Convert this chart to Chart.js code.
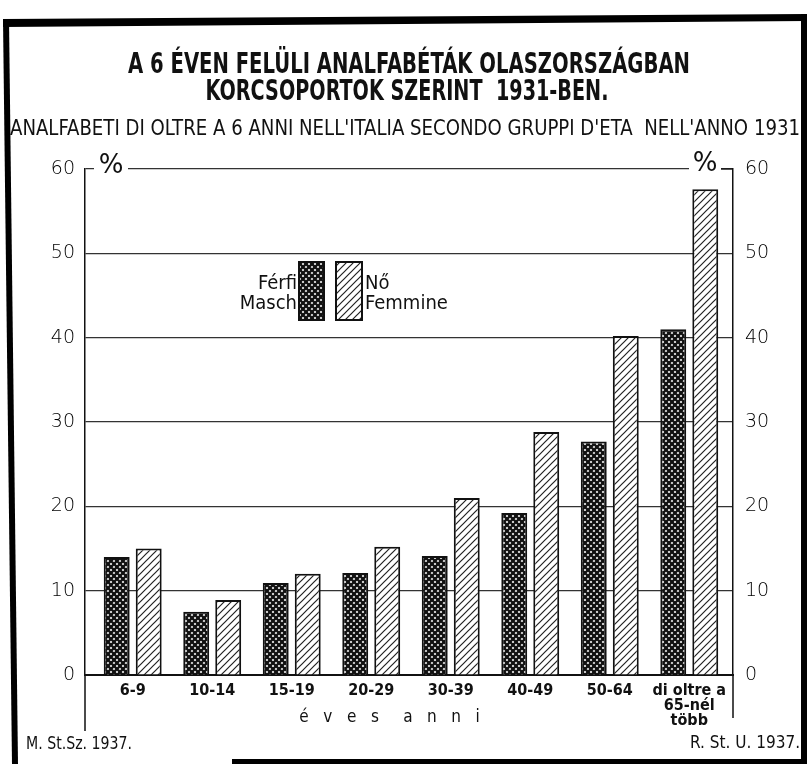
<!DOCTYPE html>
<html>
<head>
<meta charset="utf-8">
<script src="https://cdn.jsdelivr.net/npm/chart.js@4.4.0/dist/chart.umd.min.js"></script>
<style>
html, body { margin: 0; padding: 0; background: #fff; }
</style>
</head>
<body>
<canvas id="chart1" width="807" height="764"></canvas>
<script>
// age groups (x categories) and the two series
let ageGroups = ["6-9", "10-14", "15-19", "20-29", "30-39", "40-49", "50-64", ["di oltre a", "65-nél", "több"]];
let maleValues = [14.0, 7.5, 10.9, 12.1, 14.1, 19.2, 27.7, 41.0];
let femaleValues = [15.0, 8.9, 12.0, 15.2, 21.0, 28.8, 40.2, 57.6];
let yMin = 0;
let yMax = 60;
let yStep = 10;

let titleLines = ["A 6 ÉVEN FELÜLI ANALFABÉTÁK OLASZORSZÁGBAN", "KORCSOPORTOK SZERINT  1931-BEN."];
let subTitle = "ANALFABETI DI OLTRE A 6 ANNI NELL'ITALIA SECONDO GRUPPI D'ETA  NELL'ANNO 1931";
let legendMale = ["Férfi", "Maschi"];
let legendFemale = ["Nő", "Femmine"];
let axisWord = "é   v   e   s     a   n   n   i        ";
let sourceLeft = "M. St.Sz. 1937.";
let sourceRight = "R. St. U. 1937.";

let narrow = "'DejaVu Sans Condensed', 'Liberation Sans Narrow', sans-serif";
let ink = "#111";

function makeCrossPattern() {
    let c = document.createElement("canvas");
    c.width = 6;
    c.height = 6;
    let g = c.getContext("2d");
    g.fillStyle = "#fff";
    g.fillRect(0, 0, 6, 6);
    g.strokeStyle = ink;
    g.lineWidth = 2.4;
    g.beginPath();
    g.moveTo(-1, -1); g.lineTo(7, 7);
    g.moveTo(-1, 7); g.lineTo(7, -1);
    g.stroke();
    return g.createPattern(c, "repeat");
}

function makeHatchPattern() {
    let c = document.createElement("canvas");
    c.width = 7;
    c.height = 7;
    let g = c.getContext("2d");
    g.fillStyle = "#fff";
    g.fillRect(0, 0, 7, 7);
    g.strokeStyle = "#222";
    g.lineWidth = 1.2;
    g.beginPath();
    g.moveTo(0, 7); g.lineTo(7, 0);
    g.moveTo(-1, 1); g.lineTo(1, -1);
    g.moveTo(6, 8); g.lineTo(8, 6);
    g.stroke();
    return g.createPattern(c, "repeat");
}

let darkFill = makeCrossPattern();
let lightFill = makeHatchPattern();

// the printed title is much more compressed than any installed font,
// so each line is squeezed to its printed width
function squeezedText(ctx, text, cx, cy, font, width) {
    ctx.save();
    ctx.font = font;
    let w = ctx.measureText(text).width;
    ctx.translate(cx, cy);
    ctx.scale(width / w, 1);
    ctx.textAlign = "center";
    ctx.textBaseline = "middle";
    ctx.fillText(text, 0, 0);
    ctx.restore();
}

// titles, legend, % marks, frame and source notes
let paperPlugin = {
    id: "paper",
    afterDatasetsDraw(chart) {
        let ctx = chart.ctx;
        let a = chart.chartArea;
        ctx.save();
        ctx.fillStyle = ink;
        squeezedText(ctx, titleLines[0], 409, 65, "bold 29px " + narrow, 562);
        squeezedText(ctx, titleLines[1], 407, 92, "bold 29px " + narrow, 403);
        squeezedText(ctx, subTitle, 405, 130, "21px " + narrow, 790);

        // % signs sitting on the top line
        ctx.fillStyle = "#fff";
        ctx.fillRect(a.left + 9, a.top - 4, 34, 8);
        ctx.fillRect(a.right - 44, a.top - 4, 32, 8);
        ctx.fillStyle = ink;
        ctx.font = "26px 'DejaVu Sans'";
        ctx.textAlign = "center";
        ctx.textBaseline = "middle";
        ctx.fillText("%", a.left + 26, a.top - 3);
        ctx.fillText("%", a.right - 28, a.top - 5);
        ctx.strokeStyle = ink;
        ctx.lineWidth = 1.3;
        ctx.beginPath();
        ctx.moveTo(a.right - 12, a.top);
        ctx.lineTo(a.right, a.top);
        ctx.stroke();

        // legend
        ctx.font = "20px " + narrow;
        ctx.textAlign = "right";
        ctx.fillText(legendMale[0], 297, 284);
        ctx.fillText(legendMale[1], 302, 304);
        ctx.textAlign = "left";
        ctx.fillText(legendFemale[0], 365, 284);
        ctx.fillText(legendFemale[1], 365, 304);
        ctx.lineWidth = 2;
        ctx.fillStyle = darkFill;
        ctx.fillRect(299, 262, 25, 58);
        ctx.strokeRect(299, 262, 25, 58);
        ctx.fillStyle = lightFill;
        ctx.fillRect(336, 262, 26, 58);
        ctx.strokeRect(336, 262, 26, 58);
        ctx.restore();
    },
    afterDraw(chart) {
        let ctx = chart.ctx;
        let a = chart.chartArea;
        ctx.save();
        ctx.strokeStyle = ink;
        ctx.lineWidth = 1.5;
        ctx.beginPath();
        ctx.moveTo(a.left, a.bottom);
        ctx.lineTo(a.left, 731);
        ctx.moveTo(a.right, a.bottom);
        ctx.lineTo(a.right, 718);
        ctx.stroke();

        ctx.fillStyle = ink;
        squeezedText(ctx, sourceLeft, 79, 745, "17px " + narrow, 106);
        squeezedText(ctx, sourceRight, 745, 744, "17px " + narrow, 110);

        // thick frame of the printed plate
        ctx.fillStyle = "#000";
        ctx.beginPath();
        ctx.moveTo(3, 19); ctx.lineTo(807, 14); ctx.lineTo(807, 21); ctx.lineTo(3, 27);
        ctx.fill();
        ctx.beginPath();
        ctx.moveTo(3, 19); ctx.lineTo(9, 19); ctx.lineTo(18, 764); ctx.lineTo(12, 764);
        ctx.fill();
        ctx.fillRect(801, 14, 6, 750);
        ctx.fillRect(232, 759, 575, 5);
        ctx.restore();
    }
};

let ctx = document.getElementById("chart1").getContext("2d");

let chart1 = new Chart(ctx, {
    type: "bar",
    data: {
        datasets: [
            {
                label: legendMale.join(" / "),
                data: maleValues.map((v, i) => ({ x: i, y: v })),
                backgroundColor: darkFill,
                borderColor: ink,
                borderWidth: 2,
                barPercentage: 0.81,
                categoryPercentage: 0.805
            },
            {
                label: legendFemale.join(" / "),
                data: femaleValues.map((v, i) => ({ x: i, y: v })),
                backgroundColor: lightFill,
                borderColor: ink,
                borderWidth: 2,
                barPercentage: 0.81,
                categoryPercentage: 0.805
            }
        ]
    },
    options: {
        responsive: false,
        animation: false,
        layout: { padding: { top: 169, left: 0, right: 0, bottom: 0 } },
        plugins: {
            legend: { display: false },
            tooltip: { enabled: false }
        },
        scales: {
            x: {
                type: "linear",
                min: -0.6,
                max: 7.55,
                offset: false,
                grid: { display: false, drawTicks: false },
                border: { color: ink, width: 2 },
                afterBuildTicks: (s) => { s.ticks = ageGroups.map((g, i) => ({ value: i })); },
                afterFit: (s) => { s.height = 89; },
                ticks: {
                    autoSkip: false,
                    maxRotation: 0,
                    padding: 8,
                    color: ink,
                    font: { family: narrow, size: 16, weight: "bold", lineHeight: 0.95 },
                    callback: (v) => ageGroups[v]
                },
                title: {
                    display: true,
                    text: axisWord,
                    color: ink,
                    font: { family: narrow, size: 17, lineHeight: 1.0 },
                    padding: { top: 0, bottom: 37.5 }
                }
            },
            y: {
                position: "left",
                min: yMin,
                max: yMax,
                grid: { color: "#333", lineWidth: 1.2, drawTicks: false },
                border: { color: ink, width: 1.5 },
                afterFit: (s) => { s.width = 85; },
                ticks: {
                    stepSize: yStep,
                    padding: 10,
                    color: "#000",
                    font: { family: "'DejaVu Sans'", size: 19, weight: 200 }
                }
            },
            y2: {
                position: "right",
                min: yMin,
                max: yMax,
                grid: { display: false, drawTicks: false },
                border: { color: ink, width: 1.5 },
                afterFit: (s) => { s.width = 74; },
                ticks: {
                    stepSize: yStep,
                    padding: 12,
                    color: "#000",
                    font: { family: "'DejaVu Sans'", size: 19, weight: 200 }
                }
            }
        }
    },
    plugins: [paperPlugin]
});
</script>
</body>
</html>
